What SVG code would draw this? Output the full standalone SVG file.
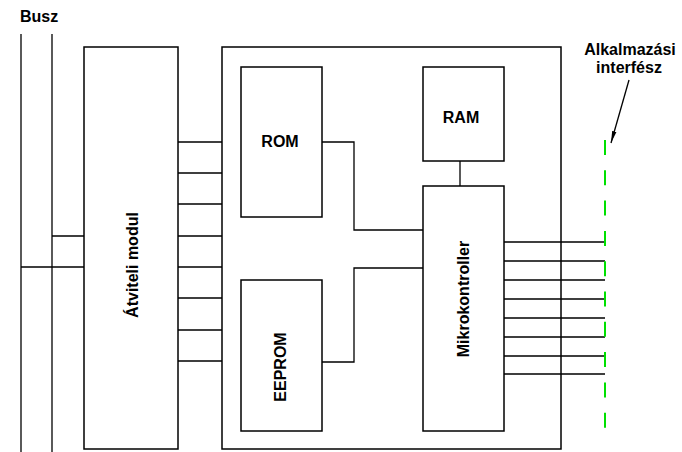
<svg xmlns="http://www.w3.org/2000/svg" width="682" height="452" viewBox="0 0 682 452">
<style>
.box{fill:#fff;stroke:#000;stroke-width:1.5}
.ln{fill:none;stroke:#000;stroke-width:1.3}
text{font-family:"Liberation Sans",Arial,sans-serif;font-weight:bold;font-size:16px;fill:#000}
</style>
<defs>
<marker id="ah" viewBox="0 0 12 6" refX="12" refY="3" markerWidth="12" markerHeight="6" markerUnits="userSpaceOnUse" orient="auto">
<path d="M0,0.8 L12,3 L0,5.2 z" fill="#000"/>
</marker>
</defs>
<rect width="682" height="452" fill="#fff"/>
<g id="modul">
<rect class="box" x="222" y="47" width="339" height="402"/>
</g>
<g id="busz">
<line class="ln" x1="21" y1="34" x2="21" y2="452"/>
<line class="ln" x1="52" y1="34" x2="52" y2="452"/>
<text x="20" y="22">Busz</text>
</g>
<g id="connectors">
<path class="ln" d="M52,236 H84 M21,267 H84"/>
<path class="ln" d="M178,142 H222 M178,173 H222 M178,204 H222 M178,236 H222 M178,267 H222 M178,298 H222 M178,330 H222 M178,361 H222"/>
<path class="ln" d="M322,142 H354 V230 H423"/>
<path class="ln" d="M322,362 H354 V268 H423"/>
<path class="ln" d="M460,161 V186"/>
<path class="ln" d="M504,242 H605 M504,261 H605 M504,280 H605 M504,299 H605 M504,318 H605 M504,337 H605 M504,356 H605 M504,374 H605"/>
<line class="ln" x1="629" y1="80" x2="611" y2="143" marker-end="url(#ah)"/>
</g>
<g id="atviteli">
<rect class="box" x="84" y="47" width="94" height="402"/>
<text transform="translate(138,265) rotate(-90)" text-anchor="middle">Átviteli modul</text>
</g>
<g id="rom">
<rect class="box" x="241" y="67" width="81" height="150"/>
<text x="280" y="147" text-anchor="middle" font-size="17">ROM</text>
</g>
<g id="ram">
<rect class="box" x="423" y="67" width="81" height="94"/>
<text x="461" y="123" text-anchor="middle">RAM</text>
</g>
<g id="eeprom">
<rect class="box" x="241" y="280" width="81" height="151"/>
<text transform="translate(286,367) rotate(-90)" text-anchor="middle" font-size="17">EEPROM</text>
</g>
<g id="mikro">
<rect class="box" x="423" y="186" width="81" height="245"/>
<text transform="translate(469,299) rotate(-90)" text-anchor="middle">Mikrokontroller</text>
</g>
<g id="interfesz">
<line x1="605" y1="140" x2="605" y2="430" stroke="#00e000" stroke-width="2" stroke-dasharray="15 15.3"/>
<text x="630" y="55" text-anchor="middle">Alkalmazási</text>
<text x="629" y="73" text-anchor="middle">interfész</text>
</g>
</svg>
